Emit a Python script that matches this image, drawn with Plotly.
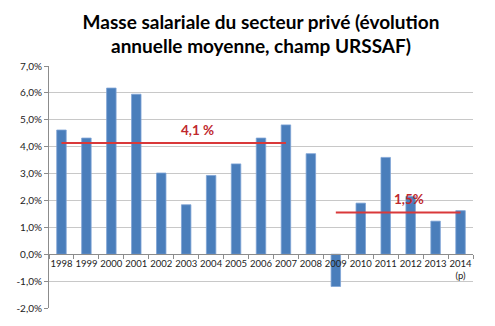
import plotly.graph_objects as go

years = ["1998", "1999", "2000", "2001", "2002", "2003", "2004", "2005", "2006",
         "2007", "2008", "2009", "2010", "2011", "2012", "2013", "2014"]
year_labels = years[:-1] + ["2014<br>(p)"]
growth = [4.62, 4.32, 6.18, 5.95, 3.02, 1.84, 2.93, 3.36, 4.32,
          4.81, 3.74, -1.2, 1.9, 3.6, 2.15, 1.23, 1.62]

avg1_years = ["1998", "2007"]
avg1_value = 4.14
avg1_label = "4,1 %"
avg2_years = ["2009", "2014"]
avg2_value = 1.55
avg2_label = "1,5%"

ytick_vals = [-2, -1, 0, 1, 2, 3, 4, 5, 6, 7]
ytick_text = ["-2,0%", "-1,0%", "0,0%", "1,0%", "2,0%", "3,0%", "4,0%", "5,0%", "6,0%", "7,0%"]

FONT = "Lato, 'Open Sans', sans-serif"
RED = "#d9393a"

fig = go.Figure()
fig.add_trace(go.Bar(
    x=years, y=growth,
    marker=dict(color="#4a7ebb", line=dict(color="#7ea3d6", width=0.8)),
    width=0.38, showlegend=False,
))
fig.add_trace(go.Scatter(
    x=avg1_years, y=[avg1_value] * 2, mode="lines",
    line=dict(color=RED, width=2), showlegend=False,
))
fig.add_trace(go.Scatter(
    x=avg2_years, y=[avg2_value] * 2, mode="lines",
    line=dict(color=RED, width=2), showlegend=False,
))

fig.add_annotation(x=5.45, y=avg1_value, yshift=13, text="<b>" + avg1_label + "</b>",
                   showarrow=False, font=dict(family=FONT, size=13.5, color="#c0282d"))
fig.add_annotation(x=13.95, y=avg2_value, yshift=14, text="<b>" + avg2_label + "</b>",
                   showarrow=False, font=dict(family=FONT, size=13.5, color="#c0282d"))

ymin, ymax = -2, 7
fig.update_layout(
    width=495, height=326,
    margin=dict(l=49, r=22, t=66, b=13),
    paper_bgcolor="white", plot_bgcolor="white",
    title=dict(
        text="<b>Masse salariale du secteur privé (évolution<br>annuelle moyenne, champ URSSAF)</b>",
        x=0.5, xanchor="center", xref="paper", yref="container",
        y=1 - 28.5 / 326, yanchor="middle",
        font=dict(family=FONT, size=19, color="black"),
    ),
    font=dict(family=FONT, size=10, color="#222"),
    xaxis=dict(
        type="category", categoryorder="array", categoryarray=years,
        tickvals=years, ticktext=year_labels, tickangle=0,
        anchor="free", position=(0 - ymin) / (ymax - ymin),
        showline=True, linecolor="#8c8c8c", linewidth=1,
        ticks="outside", tickson="boundaries", ticklen=4, tickcolor="#8c8c8c",
        showgrid=False, range=[-0.5, 16.5],
        tickfont=dict(family=FONT, size=9.5, color="#222"),
    ),
    yaxis=dict(
        range=[ymin, ymax], tickvals=ytick_vals, ticktext=ytick_text,
        showgrid=True, gridcolor="#c8c8c8", gridwidth=1,
        showline=True, linecolor="#8c8c8c", linewidth=1,
        ticks="outside", ticklen=4, tickcolor="#8c8c8c",
        zeroline=False,
        tickfont=dict(family=FONT, size=10, color="#222"),
    ),
)

fig.write_html("out.html")
